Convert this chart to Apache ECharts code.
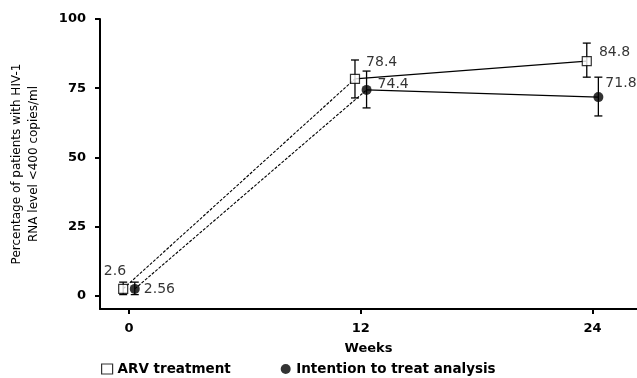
<!DOCTYPE html>
<html>
<head>
<meta charset="utf-8">
<script src="https://cdn.jsdelivr.net/npm/echarts@6/dist/echarts.min.js"></script>
<style>html,body{margin:0;padding:0;background:#fff;}#c{width:637px;height:378px;}</style>
</head>
<body>
<div id="c"></div>
<script>
// ---- data ----
const weeks = [0, 12, 24];
const yTicks = [0, 25, 50, 75, 100];
const arvValues = [2.6, 78.4, 84.8];
const arvLow = [0.5, 71.5, 79.0];
const arvHigh = [5.0, 85.2, 91.3];
const ittValues = [2.56, 74.4, 71.8];
const ittLow = [0.5, 67.9, 65.0];
const ittHigh = [5.0, 81.2, 79.0];
const arvLabels = ['2.6', '78.4', '84.8'];
const ittLabels = ['2.56', '74.4', '71.8'];

// ---- presentation ----
const shift = 0.3; // horizontal dodge between the two groups (weeks)
const FONT = 'DejaVu Sans';
const arvLabelStyle = [
  {position: 'left', offset: [13, -17]},
  {position: 'right', offset: [1, -16]},
  {position: 'right', offset: [2, -9]}
];
const ittLabelStyle = [
  {position: 'right', offset: [-1, 0]},
  {position: 'right', offset: [1, -6]},
  {position: 'right', offset: [-3, -14]}
];

const arvPts = weeks.map((w, i) => [w - shift, arvValues[i]]);
const ittPts = weeks.map((w, i) => [w + shift, ittValues[i]]);

function errSeries(name, xs, lows, highs) {
  return {
    type: 'custom', name: name + '_err', silent: true, z: 2,
    data: xs.map((w, i) => [w, lows[i], highs[i]]),
    renderItem: function (params, api) {
      const lo = api.coord([api.value(0), api.value(1)]);
      const hi = api.coord([api.value(0), api.value(2)]);
      const cw = 4;
      const st = {stroke: '#000', lineWidth: 1.3};
      return {type: 'group', children: [
        {type: 'line', shape: {x1: lo[0], y1: lo[1], x2: hi[0], y2: hi[1]}, style: st},
        {type: 'line', shape: {x1: lo[0] - cw, y1: lo[1], x2: lo[0] + cw, y2: lo[1]}, style: st},
        {type: 'line', shape: {x1: hi[0] - cw, y1: hi[1], x2: hi[0] + cw, y2: hi[1]}, style: st}
      ]};
    }
  };
}
function seg(pts, a, b, dashed) {
  return {
    type: 'line', silent: true, z: 1, showSymbol: false, symbol: 'none',
    data: [pts[a], pts[b]],
    lineStyle: {color: '#000', width: 1.1, type: dashed ? [3, 1.5] : 'solid'}
  };
}
function labelled(labels, styles) {
  return labels.map((t, i) => ({
    label: {show: true, formatter: t, position: styles[i].position, offset: styles[i].offset,
      color: '#000', fontSize: 14, fontFamily: FONT}
  }));
}

const chart = echarts.init(document.getElementById('c'), null, {renderer: 'canvas'});
chart.setOption({
  animation: false,
  backgroundColor: '#fff',
  grid: {left: 100, right: 0, top: 19, bottom: 69},
  legend: {
    left: 101, bottom: 2, padding: 0, itemGap: 50, itemWidth: 11, itemHeight: 10,
    textStyle: {fontFamily: FONT, fontSize: 13.5, fontWeight: 'bold', color: '#000'},
    data: [
      {name: 'ARV treatment', icon: 'rect', itemStyle: {color: '#fff', borderColor: '#000', borderWidth: 1.2}},
      {name: 'Intention to treat analysis', icon: 'circle', itemStyle: {color: '#000'}}
    ]
  },
  xAxis: {
    type: 'value', min: -1.5, max: 26.3,
    name: 'Weeks', nameLocation: 'middle', nameGap: 33,
    nameTextStyle: {fontFamily: FONT, fontSize: 13, fontWeight: 'bold', color: '#000'},
    axisLine: {show: true, onZero: false, lineStyle: {color: '#000', width: 2}},
    axisTick: {show: true, length: 5, lineStyle: {color: '#000', width: 2}, customValues: weeks},
    axisLabel: {customValues: weeks, color: '#000', fontFamily: FONT, fontSize: 13, fontWeight: 'bold', margin: 13},
    splitLine: {show: false}
  },
  yAxis: {
    type: 'value', min: -4.7, max: 100,
    name: 'Percentage of patients with HIV-1\nRNA level <400 copies/ml',
    nameLocation: 'middle', nameRotate: 90, nameGap: 58,
    nameTextStyle: {fontFamily: FONT, fontSize: 12, color: '#000', lineHeight: 17},
    axisLine: {show: true, onZero: false, lineStyle: {color: '#000', width: 2}},
    axisTick: {show: true, length: 5, lineStyle: {color: '#000', width: 2}, customValues: yTicks},
    axisLabel: {customValues: yTicks, color: '#000', fontFamily: FONT, fontSize: 13, fontWeight: 'bold', margin: 14},
    splitLine: {show: false}
  },
  series: [
    seg(arvPts, 0, 1, true), seg(arvPts, 1, 2, false),
    seg(ittPts, 0, 1, true), seg(ittPts, 1, 2, false),
    errSeries('arv', arvPts.map(p => p[0]), arvLow, arvHigh),
    errSeries('itt', ittPts.map(p => p[0]), ittLow, ittHigh),
    {
      name: 'ARV treatment', type: 'scatter', z: 5, symbol: 'rect', symbolSize: 9,
      itemStyle: {color: '#fff', borderColor: '#000', borderWidth: 1.2},
      data: arvPts.map((p, i) => Object.assign({value: p}, labelled(arvLabels, arvLabelStyle)[i]))
    },
    {
      name: 'Intention to treat analysis', type: 'scatter', z: 5, symbol: 'circle', symbolSize: 10,
      itemStyle: {color: '#000'},
      data: ittPts.map((p, i) => Object.assign({value: p}, labelled(ittLabels, ittLabelStyle)[i]))
    }
  ]
});
</script>
</body>
</html>
